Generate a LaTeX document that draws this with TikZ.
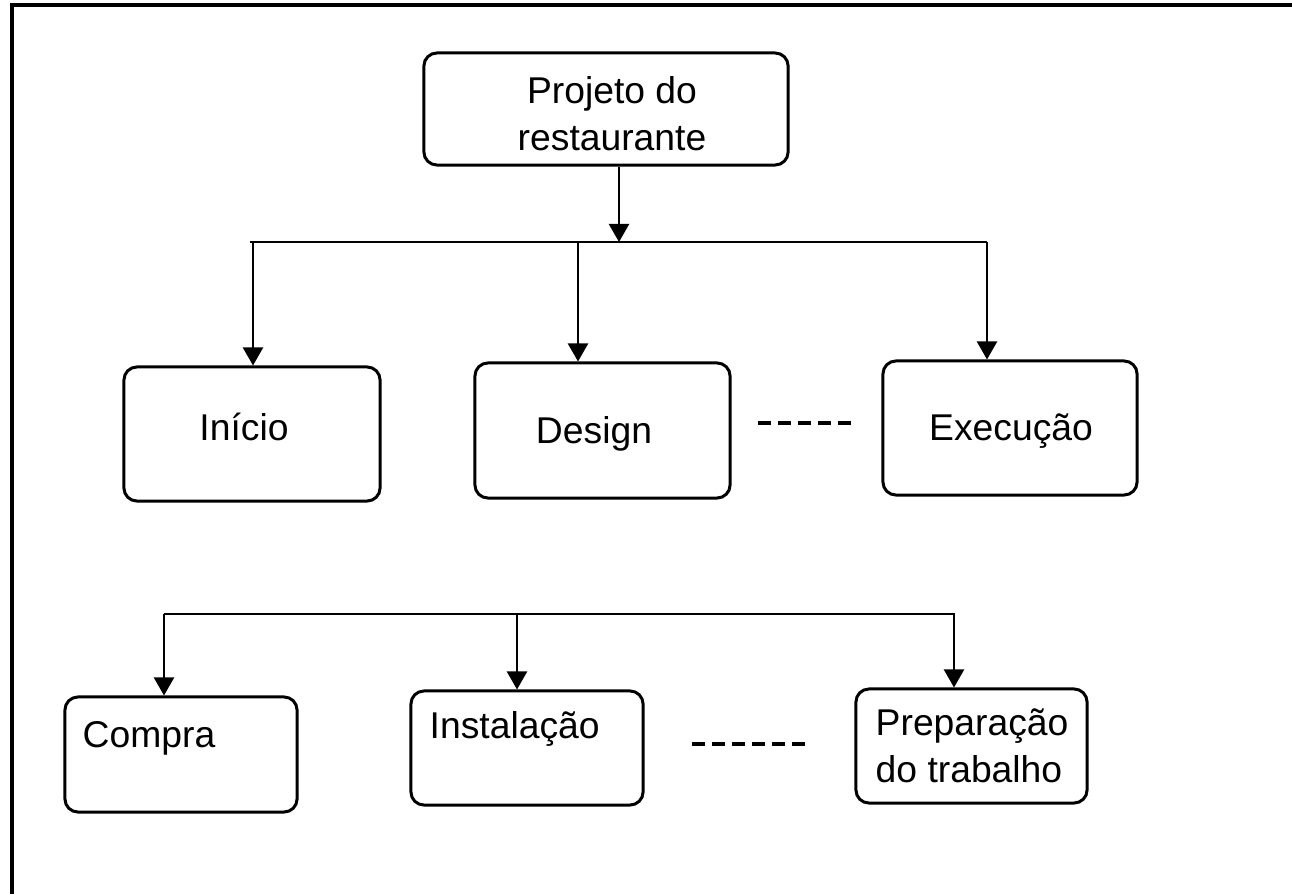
\documentclass[tikz,border=0pt]{standalone}
\usepackage{fontspec}
\setmainfont{Liberation Sans}
\usetikzlibrary{arrows.meta}
\begin{document}
\begin{tikzpicture}[x=0.01cm,y=-0.01cm,
  caixa/.style={draw,line width=0.85pt,rounded corners=0.13cm,inner sep=0pt},
  seta/.style={-{Triangle[width=0.2cm,length=0.18cm]},line width=0.65pt},
  liga/.style={line width=0.65pt},
  traco/.style={line width=1.1pt},
  txt/.style={inner sep=0pt,font=\fontsize{10.6}{13.3}\selectfont}]
\useasboundingbox (0,0) rectangle (1292,894);
\draw[line width=1.1pt] (12,894)--(12,5)--(1292,5);
% caixas
\node[caixa,minimum width=3.64cm,minimum height=1.12cm] (proj) at (606,109) {};
\node[caixa,minimum width=2.56cm,minimum height=1.34cm] (ini) at (252,434) {};
\node[caixa,minimum width=2.55cm,minimum height=1.35cm] (des) at (602.5,430.5) {};
\node[caixa,minimum width=2.54cm,minimum height=1.34cm] (exe) at (1010,428) {};
\node[caixa,minimum width=2.32cm,minimum height=1.15cm] (com) at (181,754.5) {};
\node[caixa,minimum width=2.32cm,minimum height=1.14cm] (ins) at (527,748) {};
\node[caixa,minimum width=2.31cm,minimum height=1.14cm] (pre) at (971.5,746) {};
% textos
\node[txt,anchor=base,align=center] (tproj) at (612,150) {Projeto do\\restaurante};
\node[txt,anchor=base] (tini) at (244,440) {Início};
\node[txt,anchor=base] (tdes) at (594,443) {Design};
\node[txt,anchor=base] (texe) at (1011,440) {Execução};
\node[txt,anchor=base west] (tcom) at (82,747) {Compra};
\node[txt,anchor=base west] (tins) at (429,738) {Instalação};
\node[txt,anchor=base west,align=left] (tpre) at (875,782) {Preparação\\do trabalho};
% ligacoes
\coordinate (b0) at (619,242);
\draw[seta] (proj.south -| b0) -- (b0);
\draw[liga] (250,242) -- (987,242);
\foreach \x/\n in {253/ini,578/des,987/exe}{\draw[seta] (\x,242) -- (\x,242 |- \n.north);}
\draw[liga] (164,614) -- (955,614);
\foreach \x/\n in {164/com,517/ins,954/pre}{\draw[seta] (\x,614) -- (\x,614 |- \n.north);}
% tracejado
\foreach \i in {0,...,4}{\draw[traco] (758+\i*20,423) -- ++(13,0);}
\foreach \i in {0,...,5}{\draw[traco] (692+\i*20,744) -- ++(13,0);}
\end{tikzpicture}
\end{document}
